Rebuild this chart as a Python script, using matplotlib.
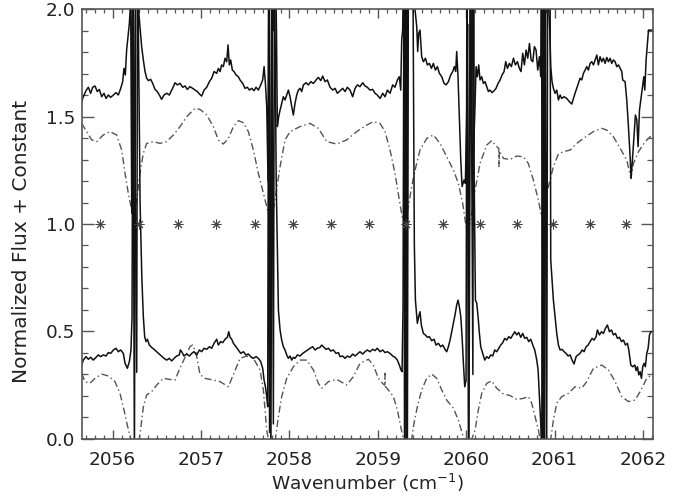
import matplotlib
matplotlib.use('Agg')
import matplotlib.pyplot as plt
from matplotlib.ticker import MultipleLocator, FormatStrFormatter

plt.rcParams['font.family'] = ['DejaVu Sans']
plt.rcParams['mathtext.fontset'] = 'dejavusans'

# observed spectrum, upper (offset) trace: (wavenumber, flux)
upper_obs = [
(2055.649,1.569),(2055.668,1.592),(2055.698,1.620),(2055.725,1.636),(2055.751,1.608),(2055.774,1.636),(2055.800,1.642),(2055.826,1.616),(2055.849,1.626),(2055.876,1.592),(2055.902,1.608),(2055.925,1.584),(2055.951,1.600),(2055.977,1.589),(2056.008,1.600),(2056.038,1.611),(2056.064,1.600),(2056.091,1.631),(2056.113,1.662),(2056.128,1.724),(2056.143,1.693),(2056.158,1.809),(2056.177,1.887),(2056.189,1.933),(2056.204,2.040),
(2056.216,1.05),(2056.226,2.30),(2056.246,-0.10),(2056.262,2.30),(2056.296,1.98),
(2056.309,1.918),(2056.328,1.825),(2056.347,1.763),(2056.366,1.709),(2056.385,1.678),(2056.404,1.667),(2056.430,1.673),(2056.453,1.654),(2056.479,1.626),(2056.505,1.616),(2056.528,1.600),(2056.554,1.580),(2056.581,1.600),(2056.611,1.608),(2056.641,1.600),(2056.668,1.623),(2056.687,1.639),(2056.705,1.657),(2056.732,1.647),(2056.762,1.654),(2056.792,1.636),(2056.819,1.642),(2056.845,1.626),(2056.875,1.639),(2056.905,1.631),(2056.932,1.623),(2056.958,1.616),(2056.981,1.605),(2057.007,1.595),(2057.034,1.623),(2057.064,1.636),(2057.094,1.662),(2057.120,1.678),(2057.147,1.709),(2057.177,1.701),(2057.196,1.724),(2057.215,1.709),(2057.233,1.740),(2057.252,1.732),(2057.271,1.771),(2057.290,1.755),(2057.305,1.833),(2057.320,1.740),(2057.335,1.763),(2057.354,1.716),(2057.373,1.709),(2057.396,1.693),(2057.422,1.685),(2057.441,1.670),(2057.471,1.654),(2057.497,1.631),(2057.524,1.636),(2057.547,1.623),(2057.573,1.631),(2057.599,1.620),(2057.622,1.636),(2057.648,1.623),(2057.675,1.647),(2057.697,1.670),(2057.713,1.732),(2057.728,1.654),(2057.743,1.546),
(2057.758,1.20),(2057.768,2.30),(2057.790,-0.10),(2057.808,2.30),(2057.822,1.90),(2057.840,2.30),(2057.853,1.90),
(2057.863,1.453),(2057.878,1.499),(2057.894,1.530),(2057.912,1.561),(2057.931,1.592),(2057.950,1.577),(2057.969,1.600),(2057.988,1.623),(2058.007,1.592),(2058.026,1.546),(2058.044,1.507),(2058.063,1.561),(2058.082,1.600),(2058.101,1.623),(2058.120,1.631),(2058.139,1.616),(2058.158,1.647),(2058.188,1.657),(2058.214,1.647),(2058.241,1.662),(2058.271,1.654),(2058.301,1.670),(2058.327,1.682),(2058.354,1.667),(2058.376,1.688),(2058.403,1.662),(2058.429,1.670),(2058.459,1.636),(2058.490,1.623),(2058.516,1.631),(2058.542,1.608),(2058.573,1.620),(2058.602,1.631),(2058.629,1.616),(2058.655,1.636),(2058.685,1.623),(2058.715,1.592),(2058.742,1.631),(2058.768,1.647),(2058.798,1.639),(2058.829,1.657),(2058.855,1.642),(2058.881,1.636),(2058.911,1.623),(2058.942,1.626),(2058.968,1.608),(2058.994,1.600),(2059.025,1.584),(2059.055,1.608),(2059.081,1.592),(2059.108,1.623),(2059.138,1.608),(2059.168,1.647),(2059.194,1.636),(2059.221,1.670),(2059.243,1.685),(2059.259,1.623),(2059.270,1.856),(2059.281,1.902),
(2059.292,2.30),(2059.302,-0.10),(2059.314,2.30),(2059.328,-0.10),(2059.340,2.30),(2059.380,2.30),(2059.400,2.10),
(2059.421,1.995),(2059.440,1.918),(2059.451,1.802),(2059.462,1.887),(2059.477,1.902),(2059.496,1.778),(2059.515,1.755),(2059.538,1.771),(2059.560,1.740),(2059.583,1.747),(2059.606,1.724),(2059.628,1.747),(2059.651,1.716),(2059.674,1.732),(2059.696,1.701),(2059.723,1.685),(2059.749,1.654),(2059.772,1.647),(2059.798,1.662),(2059.824,1.693),(2059.847,1.709),(2059.866,1.732),(2059.881,1.709),(2059.892,1.802),(2059.907,1.685),(2059.922,1.499),(2059.938,1.298),(2059.953,1.174),(2059.975,1.205),(2059.990,1.189),
(2060.005,1.50),(2060.015,1.93),(2060.025,-0.10),(2060.045,2.30),(2060.070,2.00),
(2060.081,1.313),(2060.100,1.561),(2060.111,1.732),(2060.126,1.685),(2060.141,1.740),(2060.156,1.670),(2060.175,1.685),(2060.194,1.654),(2060.213,1.662),(2060.232,1.639),(2060.251,1.616),(2060.269,1.623),(2060.292,1.611),(2060.315,1.620),(2060.337,1.631),(2060.360,1.654),(2060.383,1.670),(2060.405,1.693),(2060.428,1.709),(2060.447,1.755),(2060.466,1.724),(2060.488,1.747),(2060.511,1.732),(2060.534,1.771),(2060.556,1.740),(2060.579,1.755),(2060.601,1.724),(2060.620,1.709),(2060.639,1.794),(2060.658,1.740),(2060.677,1.809),(2060.696,1.771),(2060.715,1.840),(2060.734,1.763),(2060.753,1.755),(2060.771,1.825),(2060.790,1.809),(2060.809,1.716),(2060.828,1.778),(2060.843,1.685),
(2060.852,2.30),(2060.862,-0.10),(2060.874,2.30),(2060.886,-0.10),(2060.900,2.30),(2060.945,1.90),
(2060.956,1.732),(2060.971,1.662),(2060.986,1.631),(2061.005,1.608),(2061.024,1.623),(2061.043,1.577),(2061.062,1.600),(2061.080,1.584),(2061.107,1.592),(2061.137,1.584),(2061.167,1.569),(2061.194,1.558),(2061.213,1.584),(2061.231,1.608),(2061.250,1.631),(2061.269,1.654),(2061.288,1.678),(2061.307,1.670),(2061.326,1.701),(2061.345,1.716),(2061.363,1.732),(2061.382,1.716),(2061.401,1.747),(2061.420,1.755),(2061.439,1.740),(2061.458,1.763),(2061.477,1.786),(2061.495,1.740),(2061.514,1.778),(2061.533,1.755),(2061.552,1.771),(2061.571,1.747),(2061.590,1.775),(2061.609,1.755),(2061.628,1.771),(2061.646,1.747),(2061.665,1.763),(2061.684,1.755),(2061.703,1.732),(2061.722,1.740),(2061.741,1.724),(2061.760,1.709),(2061.770,1.670),(2061.797,1.662),(2061.816,1.577),(2061.835,1.453),(2061.854,1.313),(2061.865,1.212),(2061.880,1.298),(2061.900,1.422),(2061.914,1.507),(2061.930,1.484),(2061.944,1.360),(2061.960,1.530),(2061.980,1.592),(2061.997,1.642),(2062.009,1.685),(2062.020,1.623),(2062.035,1.763),(2062.062,1.902),(2062.118,1.902)]

# observed spectrum, lower trace
lower_obs = [
(2055.649,0.344),(2055.668,0.367),(2055.698,0.383),(2055.725,0.371),(2055.751,0.380),(2055.781,0.367),(2055.811,0.380),(2055.838,0.391),(2055.864,0.383),(2055.894,0.391),(2055.925,0.386),(2055.951,0.402),(2055.977,0.398),(2056.008,0.414),(2056.038,0.422),(2056.064,0.406),(2056.091,0.414),(2056.121,0.398),(2056.140,0.352),(2056.166,0.329),(2056.189,0.360),(2056.207,0.414),(2056.219,0.569),
(2056.232,2.30),(2056.272,0.31),(2056.282,2.30),(2056.310,1.10),(2056.330,0.75),
(2056.347,0.569),(2056.362,0.476),(2056.377,0.453),(2056.392,0.464),(2056.415,0.437),(2056.441,0.426),(2056.468,0.417),(2056.498,0.406),(2056.528,0.395),(2056.554,0.386),(2056.581,0.375),(2056.611,0.367),(2056.641,0.375),(2056.668,0.363),(2056.694,0.375),(2056.724,0.386),(2056.754,0.391),(2056.766,0.414),(2056.781,0.406),(2056.807,0.386),(2056.837,0.395),(2056.868,0.386),(2056.894,0.398),(2056.920,0.406),(2056.951,0.391),(2056.981,0.414),(2057.007,0.406),(2057.034,0.422),(2057.064,0.417),(2057.094,0.429),(2057.120,0.422),(2057.147,0.445),(2057.177,0.464),(2057.196,0.437),(2057.222,0.453),(2057.245,0.448),(2057.271,0.464),(2057.298,0.473),(2057.313,0.499),(2057.328,0.473),(2057.347,0.464),(2057.366,0.445),(2057.396,0.429),(2057.422,0.414),(2057.449,0.398),(2057.479,0.406),(2057.509,0.391),(2057.535,0.395),(2057.562,0.383),(2057.592,0.375),(2057.622,0.383),(2057.648,0.375),(2057.675,0.360),(2057.697,0.329),(2057.713,0.274),(2057.728,0.243),(2057.743,0.197),(2057.754,0.150),
(2057.765,2.30),(2057.775,0.03),(2057.800,2.30),(2057.818,0.07),(2057.830,2.30),(2057.850,1.20),
(2057.875,0.600),(2057.894,0.507),(2057.912,0.460),(2057.931,0.429),(2057.950,0.414),(2057.969,0.391),(2057.988,0.375),(2058.007,0.386),(2058.026,0.367),(2058.044,0.380),(2058.063,0.375),(2058.090,0.391),(2058.120,0.386),(2058.150,0.398),(2058.177,0.406),(2058.203,0.414),(2058.233,0.422),(2058.263,0.429),(2058.290,0.414),(2058.316,0.422),(2058.346,0.426),(2058.365,0.437),(2058.384,0.429),(2058.414,0.417),(2058.441,0.422),(2058.467,0.409),(2058.497,0.414),(2058.527,0.398),(2058.554,0.402),(2058.572,0.383),(2058.602,0.386),(2058.629,0.375),(2058.655,0.386),(2058.685,0.380),(2058.715,0.395),(2058.742,0.386),(2058.768,0.395),(2058.798,0.406),(2058.829,0.395),(2058.855,0.406),(2058.881,0.414),(2058.911,0.406),(2058.942,0.417),(2058.968,0.411),(2058.994,0.422),(2059.025,0.406),(2059.055,0.414),(2059.081,0.402),(2059.108,0.406),(2059.138,0.398),(2059.168,0.386),(2059.194,0.380),(2059.221,0.367),(2059.243,0.344),(2059.262,0.321),(2059.274,0.313),
(2059.285,0.615),(2059.296,2.30),(2059.308,-0.10),(2059.320,2.30),(2059.334,-0.10),(2059.346,2.30),(2059.395,2.30),(2059.413,0.90),
(2059.425,0.646),(2059.447,0.538),(2059.462,0.569),(2059.477,0.592),(2059.492,0.530),(2059.515,0.491),(2059.538,0.484),(2059.560,0.473),(2059.583,0.476),(2059.609,0.457),(2059.636,0.464),(2059.658,0.437),(2059.685,0.445),(2059.711,0.429),(2059.734,0.437),(2059.760,0.417),(2059.779,0.406),(2059.798,0.429),(2059.817,0.460),(2059.836,0.499),(2059.855,0.538),(2059.873,0.577),(2059.892,0.623),(2059.907,0.646),(2059.922,0.616),(2059.938,0.569),(2059.953,0.476),(2059.968,0.352),(2059.983,0.243),(2059.998,0.274),
(2060.008,2.30),(2060.030,-0.10),(2060.050,2.30),(2060.075,0.30),(2060.083,2.30),(2060.090,1.20),
(2060.104,0.646),(2060.119,0.631),(2060.134,0.569),(2060.149,0.491),(2060.164,0.429),(2060.186,0.398),(2060.209,0.367),(2060.232,0.383),(2060.254,0.375),(2060.277,0.391),(2060.300,0.386),(2060.322,0.414),(2060.345,0.406),(2060.368,0.422),(2060.390,0.437),(2060.413,0.448),(2060.435,0.468),(2060.458,0.460),(2060.481,0.476),(2060.503,0.468),(2060.526,0.484),(2060.549,0.499),(2060.571,0.484),(2060.594,0.495),(2060.617,0.473),(2060.639,0.491),(2060.662,0.468),(2060.684,0.473),(2060.707,0.453),(2060.730,0.464),(2060.753,0.437),(2060.775,0.414),(2060.798,0.367),(2060.813,0.321),(2060.828,0.197),(2060.843,0.073),
(2060.855,-0.10),(2060.866,2.30),(2060.878,-0.10),(2060.892,2.30),(2060.910,-0.10),(2060.922,2.30),(2060.948,2.30),
(2060.956,0.833),(2060.971,0.740),(2060.986,0.646),(2061.005,0.569),(2061.024,0.491),(2061.043,0.437),(2061.062,0.414),(2061.084,0.417),(2061.107,0.406),(2061.130,0.398),(2061.152,0.386),(2061.175,0.391),(2061.197,0.367),(2061.220,0.349),(2061.243,0.383),(2061.265,0.391),(2061.288,0.398),(2061.311,0.414),(2061.333,0.406),(2061.356,0.429),(2061.379,0.437),(2061.401,0.453),(2061.424,0.468),(2061.446,0.460),(2061.469,0.476),(2061.484,0.507),(2061.507,0.484),(2061.530,0.499),(2061.552,0.491),(2061.575,0.515),(2061.597,0.530),(2061.620,0.499),(2061.643,0.507),(2061.665,0.484),(2061.688,0.491),(2061.711,0.468),(2061.733,0.473),(2061.756,0.453),(2061.779,0.460),(2061.801,0.437),(2061.824,0.445),(2061.839,0.414),(2061.862,0.344),(2061.884,0.336),(2061.907,0.344),(2061.922,0.318),(2061.937,0.336),(2061.952,0.298),(2061.967,0.313),(2061.982,0.282),(2061.997,0.336),(2062.012,0.352),(2062.027,0.336),(2062.042,0.398),(2062.058,0.422),(2062.073,0.484),(2062.088,0.499),(2062.110,0.499)]

# model spectrum, upper trace
upper_model = [
(2055.649,1.468),(2055.706,1.430),(2055.762,1.391),(2055.819,1.383),(2055.894,1.414),(2055.970,1.430),(2056.045,1.414),(2056.102,1.344),(2056.140,1.236),(2056.177,1.143),(2056.215,1.065),(2056.241,1.034),(2056.272,1.112),(2056.309,1.236),(2056.347,1.329),(2056.385,1.375),(2056.460,1.383),(2056.536,1.375),(2056.611,1.383),(2056.687,1.414),(2056.762,1.453),(2056.837,1.499),(2056.932,1.538),(2056.988,1.533),(2057.064,1.507),(2057.139,1.453),(2057.196,1.391),(2057.252,1.372),(2057.309,1.398),(2057.366,1.453),(2057.422,1.481),(2057.479,1.471),(2057.535,1.430),(2057.592,1.344),(2057.648,1.236),(2057.705,1.143),(2057.743,1.081),(2057.773,1.026),(2057.811,1.050),(2057.848,1.143),(2057.894,1.267),(2057.950,1.391),(2058.007,1.430),(2058.120,1.453),(2058.233,1.468),(2058.327,1.445),(2058.422,1.383),(2058.535,1.372),(2058.647,1.391),(2058.761,1.430),(2058.874,1.460),(2058.949,1.476),(2059.025,1.468),(2059.081,1.430),(2059.138,1.344),(2059.194,1.236),(2059.243,1.112),(2059.281,1.019),(2059.308,1.003),(2059.345,1.081),(2059.383,1.174),(2059.421,1.251),(2059.477,1.344),(2059.553,1.398),(2059.628,1.414),(2059.704,1.375),(2059.779,1.313),(2059.855,1.251),(2059.911,1.189),(2059.960,1.096),(2059.998,0.988),(2060.024,0.972),(2060.062,1.050),(2060.100,1.158),(2060.156,1.282),(2060.232,1.367),(2060.288,1.388),(2060.345,1.360),(2060.368,1.352),(2060.371,1.267),(2060.374,1.340),(2060.421,1.305),(2060.496,1.300),(2060.571,1.316),(2060.646,1.313),(2060.702,1.282),(2060.759,1.205),(2060.816,1.112),(2060.854,1.034),(2060.892,1.096),(2060.930,1.174),(2060.986,1.267),(2061.043,1.326),(2061.099,1.336),(2061.175,1.344),(2061.250,1.375),(2061.326,1.398),(2061.439,1.430),(2061.533,1.445),(2061.590,1.437),(2061.665,1.406),(2061.741,1.352),(2061.816,1.298),(2061.862,1.214),(2061.892,1.282),(2061.948,1.336),(2062.024,1.383),(2062.080,1.406),(2062.118,1.409)]

# model spectrum, lower trace
lower_model = [
(2055.649,0.305),(2055.687,0.267),(2055.743,0.259),(2055.800,0.282),(2055.876,0.302),(2055.951,0.293),(2056.026,0.267),(2056.083,0.212),(2056.128,0.135),(2056.170,0.057),(2056.204,0.000),(2056.253,-0.30),(2056.302,0.000),(2056.309,0.020),(2056.347,0.150),(2056.385,0.205),(2056.441,0.220),(2056.498,0.251),(2056.573,0.282),(2056.649,0.277),(2056.705,0.274),(2056.762,0.330),(2056.819,0.380),(2056.875,0.430),(2056.905,0.437),(2056.943,0.400),(2056.988,0.300),(2057.045,0.282),(2057.139,0.274),(2057.215,0.267),(2057.309,0.243),(2057.366,0.300),(2057.441,0.375),(2057.516,0.386),(2057.592,0.375),(2057.667,0.321),(2057.705,0.228),(2057.743,0.040),(2057.762,0.000),(2057.800,-0.30),(2057.841,0.000),(2057.875,0.104),(2057.912,0.197),(2057.969,0.282),(2058.044,0.336),(2058.120,0.367),(2058.196,0.367),(2058.271,0.321),(2058.327,0.259),(2058.365,0.236),(2058.441,0.267),(2058.535,0.277),(2058.647,0.251),(2058.723,0.290),(2058.798,0.352),(2058.893,0.371),(2058.949,0.344),(2059.006,0.282),(2059.062,0.255),(2059.078,0.251),(2059.081,0.305),(2059.084,0.245),(2059.119,0.228),(2059.176,0.197),(2059.221,0.135),(2059.259,0.057),(2059.289,0.000),(2059.334,-0.30),(2059.383,0.000),(2059.409,0.073),(2059.447,0.150),(2059.496,0.228),(2059.553,0.282),(2059.609,0.302),(2059.666,0.282),(2059.723,0.228),(2059.779,0.181),(2059.855,0.143),(2059.911,0.088),(2059.949,0.034),(2059.975,0.000),(2060.017,-0.30),(2060.062,0.000),(2060.100,0.042),(2060.137,0.135),(2060.175,0.212),(2060.232,0.259),(2060.288,0.270),(2060.345,0.236),(2060.421,0.209),(2060.496,0.202),(2060.571,0.184),(2060.647,0.189),(2060.703,0.197),(2060.741,0.166),(2060.779,0.104),(2060.816,0.042),(2060.835,0.000),(2060.896,-0.30),(2060.956,0.000),(2060.986,0.088),(2061.024,0.166),(2061.080,0.197),(2061.156,0.212),(2061.231,0.243),(2061.307,0.236),(2061.363,0.267),(2061.439,0.329),(2061.533,0.344),(2061.609,0.321),(2061.684,0.267),(2061.760,0.197),(2061.835,0.174),(2061.910,0.181),(2061.967,0.220),(2062.042,0.282),(2062.118,0.305)]

# line positions marked with asterisks
star_x = [2055.860, 2056.301, 2056.738, 2057.172, 2057.607, 2058.040, 2058.470, 2058.903,
          2059.321, 2059.741, 2060.160, 2060.572, 2060.985, 2061.401, 2061.812]
star_y = [1.0] * len(star_x)

x_ticks = [2056, 2057, 2058, 2059, 2060, 2061, 2062]
y_ticks = [0.0, 0.5, 1.0, 1.5, 2.0]

fig = plt.figure(figsize=(6.85, 4.98), dpi=100)
ax = fig.add_axes([0.1197, 0.1185, 0.8336, 0.8634])

for pts in (upper_model, lower_model):
    xs, ys = zip(*pts)
    ln, = ax.plot(xs, ys, color='#555555', lw=1.0)
    ln.set_dashes([5, 2.2, 1, 2.2])
for pts in (upper_obs, lower_obs):
    xs, ys = zip(*pts)
    ax.plot(xs, ys, color='#111111', lw=1.1)
ax.plot(star_x, star_y, ls='none', marker=(8, 2, 0), ms=7, mew=0.7, color='#444444')

ax.set_xlim(2055.653, 2062.113)
ax.set_ylim(0, 2.0)
ax.set_xticks(x_ticks)
ax.set_yticks(y_ticks)
ax.xaxis.set_minor_locator(MultipleLocator(0.1))
ax.yaxis.set_minor_locator(MultipleLocator(0.1))
ax.yaxis.set_major_formatter(FormatStrFormatter('%.1f'))
ax.xaxis.set_major_formatter(FormatStrFormatter('%d'))

ax.tick_params(axis='x', which='major', direction='in', length=6.5, width=1.0,
               top=True, bottom=True, pad=9, labelsize=13.3, color='#555555', labelcolor='#222222')
ax.tick_params(axis='x', which='minor', direction='in', length=3.0, width=0.9,
               top=True, bottom=True, color='#555555')
ax.tick_params(axis='y', which='major', direction='in', length=8.6, width=1.0,
               left=True, right=True, pad=5, labelsize=13.3, color='#555555', labelcolor='#222222')
ax.tick_params(axis='y', which='minor', direction='in', length=4.3, width=0.9,
               left=True, right=True, color='#555555')
for sp in ax.spines.values():
    sp.set_color('#555555')
    sp.set_linewidth(1.2)

ax.set_xlabel('Wavenumber (cm$^{-1}$)', fontsize=13.3, color='#222222', labelpad=2)
ax.set_ylabel('Normalized Flux + Constant', fontsize=14.5, color='#222222')
ax.yaxis.set_label_coords(-0.0893, 0.459)

fig.savefig('out.png', dpi=100)
